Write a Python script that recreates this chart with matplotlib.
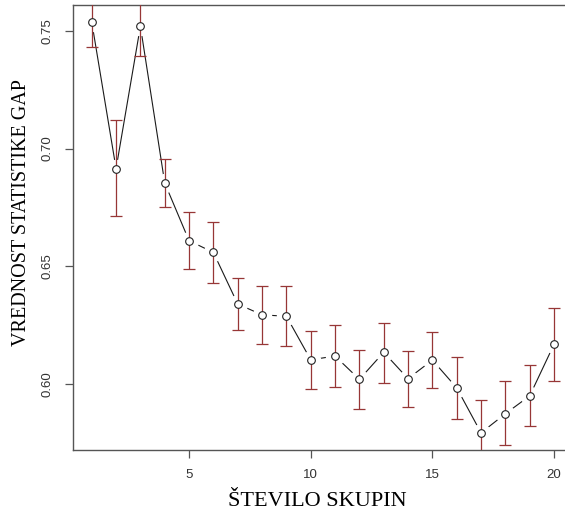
import numpy as np
import matplotlib
matplotlib.use('Agg')
import matplotlib.pyplot as plt

# Gap statistic per number of clusters
k = [1, 2, 3, 4, 5, 6, 7, 8, 9, 10, 11, 12, 13, 14, 15, 16, 17, 18, 19, 20]
gap = [0.7538, 0.6915, 0.7520, 0.6854, 0.6609, 0.6559, 0.6340, 0.6294, 0.6288, 0.6103,
       0.6119, 0.6020, 0.6135, 0.6023, 0.6102, 0.5984, 0.5793, 0.5874, 0.5950, 0.6169]
upper = [0.7645, 0.7121, 0.7647, 0.6956, 0.6729, 0.6688, 0.6450, 0.6416, 0.6416, 0.6225,
         0.6252, 0.6144, 0.6260, 0.6141, 0.6221, 0.6113, 0.5933, 0.6011, 0.6079, 0.6322]
lower = [0.7431, 0.6714, 0.7393, 0.6752, 0.6487, 0.6428, 0.6228, 0.6171, 0.6160, 0.5980,
         0.5987, 0.5893, 0.6003, 0.5903, 0.5984, 0.5850, 0.5655, 0.5740, 0.5820, 0.6011]

x_ticks = [5, 10, 15, 20]
y_ticks = [0.60, 0.65, 0.70, 0.75]

gap = np.array(gap)
yerr = [gap - np.array(lower), np.array(upper) - gap]

fig = plt.figure(figsize=(5.65, 5.17), dpi=100)
ax = fig.add_axes([73 / 565, 1 - 450 / 517, 1 - 73 / 565 + 0.01, 445 / 517])

# connecting line with gaps round the points (R type="b")
ax.plot(k, gap, color='#1a1a1a', lw=0.8, zorder=1)
ax.plot(k, gap, 'o', ms=13, mfc='white', mec='white', zorder=2)

ax.errorbar(k, gap, yerr=yerr, fmt='none', ecolor='#973636', elinewidth=0.9,
            capsize=4.5, capthick=0.9, zorder=3)
ax.plot(k, gap, 'o', ms=5.5, mfc='white', mec='#222222', mew=0.8, zorder=4)

ax.set_xlim(0.23, 20.45 + 0.01 * 565 / 24.33)
ax.set_ylim(0.572, 0.761)
ax.set_xticks(x_ticks)
ax.set_yticks(y_ticks)
ax.set_yticklabels(['%.2f' % v for v in y_ticks], rotation=90, va='center')

for side in ['left', 'bottom', 'top']:
    ax.spines[side].set_color('#555555')
    ax.spines[side].set_linewidth(1.0)
ax.spines['right'].set_visible(False)

ax.tick_params(axis='both', colors='#555555', labelcolor='#333333', length=6,
               width=0.9, labelsize=9.5)
for lab in ax.get_xticklabels() + ax.get_yticklabels():
    lab.set_family('Liberation Sans')
ax.tick_params(axis='x', pad=8)
ax.tick_params(axis='y', pad=8)

ax.set_xlabel('ŠTEVILO SKUPIN', family='Liberation Serif', fontsize=16)
ax.set_ylabel('VREDNOST STATISTIKE GAP', family='Liberation Serif', fontsize=14.5)
ax.xaxis.set_label_coords(317 / 565, 1 - 492 / 517, transform=fig.transFigure)
ax.yaxis.set_label_coords(31 / 565, 1 - 213 / 517, transform=fig.transFigure)

plt.savefig('out.png', dpi=100)
